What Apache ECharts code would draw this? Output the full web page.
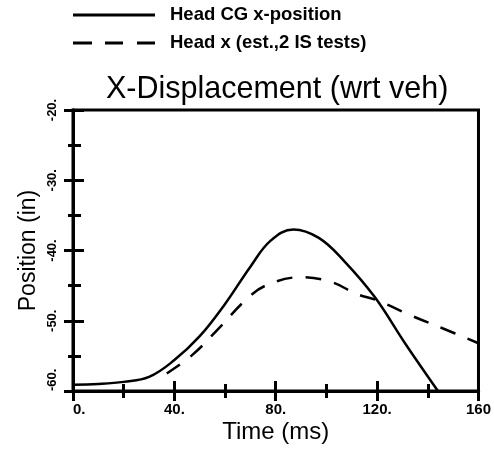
<!DOCTYPE html>
<html>
<head>
<meta charset="utf-8">
<script src="https://cdn.jsdelivr.net/npm/echarts@6/dist/echarts.min.js"></script>
<style>
html,body{margin:0;padding:0;background:#fff;}
#chart{width:494px;height:449px;}
</style>
</head>
<body>
<div id="chart"></div>
<script>
// ---- data ----
const titleText = 'X-Displacement (wrt veh)';
const seriesNames = ['Head CG x-position', 'Head x (est.,2 IS tests)'];
const xTickLabels = { 0: '0.', 40: '40.', 80: '80.', 120: '120.', 160: '160' };
const yTickLabels = { '-20': '-20.', '-30': '-30.', '-40': '-40.', '-50': '-50.', '-60': '-60.' };
const headCGTime = [0, 10, 20, 30, 40, 50, 60, 70, 78, 87, 97, 107, 119, 131, 144];
const headCGPos = [-59.1, -59.0, -58.7, -58.0, -55.6, -52.2, -47.6, -42.3, -38.6, -37.0, -38.2, -41.5, -46.6, -53.2, -60.0];
const headEstTime = [37, 47, 58, 68, 76, 90, 102, 112, 120, 133, 146, 160];
const headEstPos = [-57.5, -54.9, -50.9, -47.1, -45.0, -43.8, -44.5, -46.2, -47.1, -49.2, -51.1, -53.2];

const FONT = '"Liberation Sans", Arial, Helvetica, sans-serif';
const chart = echarts.init(document.getElementById('chart'), null, { renderer: 'canvas' });

// legend glyphs: a solid bar and a dashed bar (82 x 3 units)
const solidIcon = 'path://M0,0h82v3h-82z';
const dashedIcon = 'path://M0,0h19v3h-19z M32,0h18v3h-18z M64,0h18v3h-18z';

function xAxisDef(inside, primary) {
  return {
    type: 'value', position: 'bottom', min: 0, max: 160, interval: 40,
    name: primary ? 'Time (ms)' : '', nameLocation: 'middle', nameGap: 29,
    nameMoveOverlap: false,
    nameTextStyle: { fontFamily: FONT, fontSize: 24, color: '#000' },
    axisLine: { show: true, onZero: false, lineStyle: { color: '#000', width: 3 } },
    axisTick: { show: true, inside: inside, length: 10, lineStyle: { color: '#000', width: 3 } },
    minorTick: { show: true, splitNumber: 2, length: 7, lineStyle: { color: '#000', width: 3 } },
    splitLine: { show: false }, minorSplitLine: { show: false },
    axisLabel: {
      show: primary, margin: 11, fontFamily: FONT, fontSize: 15, fontWeight: 'bold', color: '#000',
      alignMinLabel: 'left',
      formatter: v => xTickLabels[v] !== undefined ? xTickLabels[v] : ''
    }
  };
}
function yAxisDef(inside, primary) {
  return {
    type: 'value', position: 'left', min: -60, max: -20, interval: 10,
    name: primary ? 'Position (in)' : '', nameLocation: 'middle', nameGap: 33,
    nameMoveOverlap: false,
    nameTextStyle: { fontFamily: FONT, fontSize: 23, color: '#000' },
    axisLine: { show: true, onZero: false, lineStyle: { color: '#000', width: 3 } },
    axisTick: { show: true, inside: inside, length: inside ? 11 : 9, lineStyle: { color: '#000', width: 3 } },
    minorTick: { show: true, splitNumber: 2, length: inside ? 8 : 5, lineStyle: { color: '#000', width: 3 } },
    splitLine: { show: false }, minorSplitLine: { show: false },
    axisLabel: {
      show: primary, margin: 14, rotate: 90, fontFamily: FONT, fontSize: 13, fontWeight: 'bold', color: '#000',
      alignMinLabel: 'left',
      formatter: v => yTickLabels[String(v)] !== undefined ? yTickLabels[String(v)] : ''
    }
  };
}

chart.setOption({
  animation: false,
  backgroundColor: '#fff',
  title: {
    text: titleText, left: 101, top: 69,
    textStyle: { fontFamily: FONT, fontSize: 30.5, fontWeight: 'normal', color: '#000' }
  },
  legend: {
    data: [
      { name: seriesNames[0], icon: solidIcon },
      { name: seriesNames[1], icon: dashedIcon }
    ],
    orient: 'vertical', left: 73, top: 5, padding: 0,
    itemWidth: 82, itemHeight: 3, itemGap: 8,
    textStyle: { fontFamily: FONT, fontSize: 18.5, fontWeight: 'bold', color: '#000', padding: [0, 0, 0, 10], lineHeight: 20 }
  },
  grid: { left: 73, right: 14, top: 110, bottom: 57, show: true, borderColor: '#000', borderWidth: 3, backgroundColor: 'transparent' },
  xAxis: [xAxisDef(false, true), xAxisDef(true, false)],
  yAxis: [yAxisDef(false, true), yAxisDef(true, false)],
  series: [
    {
      name: seriesNames[0], type: 'line', smooth: 0.4, symbol: 'none',
      itemStyle: { color: '#000' },
      lineStyle: { color: '#000', width: 2.5, type: 'solid' },
      data: headCGTime.map((t, i) => [t, headCGPos[i]])
    },
    {
      name: seriesNames[1], type: 'line', smooth: 0.4, symbol: 'none',
      itemStyle: { color: '#000' },
      lineStyle: { color: '#000', width: 2.5, type: [16, 13] },
      data: headEstTime.map((t, i) => [t, headEstPos[i]])
    }
  ]
});
</script>
</body>
</html>
